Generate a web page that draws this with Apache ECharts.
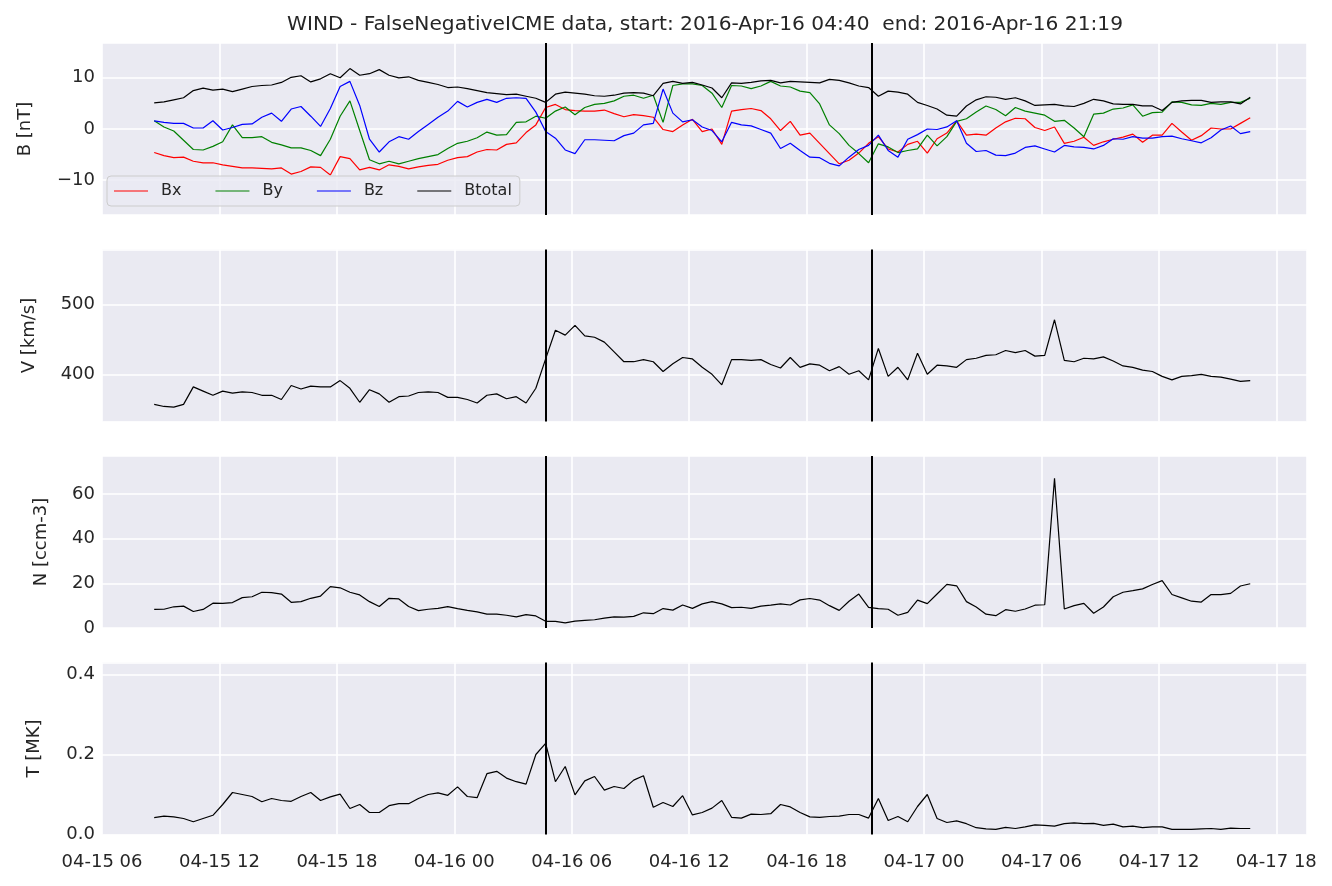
<!DOCTYPE html>
<html>
<head>
<meta charset="utf-8">
<script src="https://cdn.jsdelivr.net/npm/echarts@6/dist/echarts.min.js"></script>
<style>
html,body{margin:0;padding:0;background:#fff;}
#chart{width:1332px;height:886px;}
</style>
</head>
<body>
<div id="chart"></div>
<script>
// ---- data (sampled every 30 min from 2016-04-15 08:40 UTC) ----
const startTimeUTC = Date.UTC(2016, 3, 15, 8, 40);
const stepMinutes = 30;
const shockStart = '2016-04-16T04:40:00Z';
const icmeEnd = '2016-04-16T21:19:00Z';
const titleText = 'WIND - FalseNegativeICME data, start: 2016-Apr-16 04:40  end: 2016-Apr-16 21:19';

const Bx = [-4.6,-5.2,-5.6,-5.5,-6.3,-6.6,-6.6,-7,-7.3,-7.6,-7.6,-7.7,-7.8,-7.6,-8.8,-8.3,-7.4,-7.5,-9,-5.4,-5.8,-8,-7.5,-8,-7,-7.3,-7.8,-7.4,-7.1,-6.9,-6.1,-5.6,-5.4,-4.5,-4,-4.1,-3,-2.7,
  -0.7,0.8,4.2,4.8,3.8,3.6,3.5,3.5,3.7,3,2.4,2.8,2.6,2.3,-0.1,-0.5,0.8,1.9,-0.5,0,-3,3.5,3.8,4,3.6,2,-0.3,1.5,-1.2,-0.8,-2.8,-4.8,-6.8,-6.1,-4.7,-2.8,-1.5,-3.9,
  -4.5,-3,-2.4,-4.7,-1.9,-0.8,1.6,-1.2,-1,-1.2,0.2,1.4,2.1,2,0.3,-0.3,0.4,-2.8,-2.4,-1.6,-3.2,-2.5,-2,-1.6,-1,-2.6,-1.2,-1.2,1.1,-0.6,-2.2,-1.3,0.2,0,0,1.1,2.2];
const By = [1.6,0.4,-0.4,-2.2,-4,-4.1,-3.4,-2.5,0.8,-1.7,-1.7,-1.5,-2.6,-3.1,-3.7,-3.7,-4.2,-5.2,-2,2.5,5.5,-0.3,-6,-6.8,-6.3,-6.8,-6.3,-5.8,-5.4,-5,-3.8,-2.8,-2.4,-1.7,-0.6,-1.2,-1.1,1.3,
  1.4,2.5,2.1,3.5,4.3,2.8,4.2,4.8,5,5.5,6.4,6.6,6,6.6,1.3,8.5,8.8,8.8,8.5,7,4.2,8.5,8.4,7.9,8.4,9.3,8.4,8.2,7.4,7.1,4.9,0.8,-0.9,-3.2,-4.8,-6.6,-2.9,-3.5,
  -4.6,-4.2,-3.9,-1.2,-3.3,-1.5,1.5,2,3.3,4.5,3.8,2.6,4.2,3.5,3.1,2.7,1.5,1.7,0.2,-1.5,2.9,3.1,3.9,4.1,4.7,2.5,3.2,3.3,5.3,5.2,4.7,4.6,5,4.8,5.2,5.2,6];
const Bz = [1.6,1.3,1.1,1.1,0.2,0.2,1.6,-0.2,0.3,0.9,1,2.3,3.1,1.5,3.9,4.4,2.5,0.5,4,8.3,9.3,4.6,-2,-4.5,-2.5,-1.5,-2,-0.5,0.9,2.3,3.5,5.4,4.3,5.2,5.8,5.2,6.0,6.1,
  6,3.3,-0.5,-1.8,-4.1,-4.8,-2.1,-2.1,-2.2,-2.3,-1.3,-0.8,0.8,1.1,7.8,3.1,1.4,1.8,0.4,-0.3,-2.5,1.3,0.8,0.6,-0.1,-0.8,-3.8,-2.8,-4.2,-5.5,-5.6,-6.7,-7.2,-5.5,-4,-3.2,-1.2,-4.2,
  -5.5,-2,-1.1,0,-0.1,0.4,1.6,-2.8,-4.4,-4.2,-5.1,-5.2,-4.7,-3.6,-3.3,-3.9,-4.5,-3.2,-3.5,-3.6,-3.9,-3.2,-1.9,-2,-1.5,-1.8,-1.8,-1.5,-1.4,-1.9,-2.3,-2.7,-1.7,-0.2,0.6,-0.9,-0.5];
const Btotal = [5.1,5.3,5.7,6.1,7.5,8,7.6,7.8,7.3,7.8,8.3,8.5,8.6,9.1,10.1,10.4,9.2,9.8,10.8,10,11.8,10.5,10.8,11.6,10.5,10,10.2,9.5,9.1,8.7,8.1,8.2,7.9,7.5,7.1,6.9,6.7,6.8,
  6.4,6,5.2,6.8,7.2,7,6.8,6.5,6.4,6.6,7,7.1,7,6.5,8.9,9.3,8.9,9.1,8.6,8,6.1,9,8.9,9.1,9.4,9.5,9,9.3,9.2,9.1,9,9.7,9.5,9,8.4,8.1,6.4,7.4,
  7.2,6.8,5.2,4.6,3.9,2.7,2.5,4.5,5.7,6.3,6.2,5.8,6.1,5.5,4.6,4.7,4.8,4.5,4.4,5,5.8,5.5,4.9,4.8,4.8,4.5,4.5,3.6,5.2,5.5,5.6,5.6,5.2,5.3,5.3,4.9,6.2];
const V = [357,354,353,357,382,376,370,376,373,375,374,370,370,364,384,379,383,382,382,391,380,360,378,372,360,368,369,374,375,374,367,367,364,359,370,372,365,368,359,380,
  422,463,456,470,455,453,446,432,418,418,421,418,404,415,424,422,410,400,
  385,421,421,420,421,414,409,424,410,415,413,405,411,400,405,392,437,397,410,392,430,400,413,412,410,421,423,427,428,434,431,434,426,427,478,420,418,423,422,425,419,412,410,406,404,397,392,397,398,400,397,396,393,390,391];
const N = [8.3,8.4,9.5,9.8,7.4,8.3,11.1,11,11.4,13.6,14,16,15.8,15.2,11.5,11.8,13.3,14.3,18.5,18,16,14.8,11.8,9.6,13.3,13,9.6,7.8,8.4,8.8,9.6,8.7,7.9,7.2,6.2,6.2,5.7,5,6,5.4,
  3,3,2.3,3.1,3.4,3.7,4.4,5,4.9,5.2,6.8,6.4,8.7,8,10.3,8.8,10.8,11.8,
  10.8,9.1,9.3,8.8,9.8,10.2,10.8,10.3,12.6,13.2,12.5,10,7.9,12,15.2,9.2,8.7,8.4,5.7,7,12.5,10.9,15.2,19.5,18.9,11.8,9.4,6.2,5.5,8.2,7.5,8.5,10.2,10.4,67,8.5,10,11,6.6,9.4,14,16,16.7,17.5,19.5,21.2,15,13.5,12,11.6,15,14.9,15.5,18.8,19.8];
const T = [0.042,0.046,0.044,0.040,0.032,0.040,0.048,0.075,0.105,0.100,0.095,0.082,0.090,0.085,0.083,0.095,0.105,0.085,0.094,0.101,0.065,0.075,0.055,0.055,0.072,0.077,0.077,0.090,0.100,0.104,0.098,0.119,0.095,0.092,0.152,0.158,0.141,0.132,0.126,0.200,
  0.228,0.132,0.170,0.099,0.134,0.145,0.111,0.120,0.115,0.136,0.147,0.068,0.080,0.070,0.097,0.049,0.055,0.066,
  0.085,0.043,0.041,0.051,0.050,0.052,0.075,0.069,0.055,0.044,0.043,0.045,0.046,0.050,0.050,0.041,0.090,0.035,0.045,0.032,0.070,0.100,0.040,0.030,0.034,0.027,0.017,0.014,0.013,0.018,0.015,0.019,0.024,0.023,0.021,0.027,0.029,0.027,0.028,0.023,0.026,0.019,0.021,0.017,0.019,0.019,0.013,0.013,0.013,0.014,0.015,0.013,0.016,0.015,0.015];

const panelNames = ['B [nT]', 'V [km/s]', 'N [ccm-3]', 'T [MK]'];

// ---- build ----
const times = Bx.map((_, i) => startTimeUTC + i * stepMinutes * 60000);
const pair = arr => arr.map((v, i) => [times[i], v]);

const FONT = 'DejaVu Sans';
const TXT = '#262626';
const xMin = Date.UTC(2016, 3, 15, 6, 0);
const xMax = Date.UTC(2016, 3, 17, 19, 34);
const SIX_H = 6 * 3600 * 1000;
const tops = [43, 249.5, 456, 662.5];
const H = 172;
const LEFT = 102, WIDTH = 1205;

function pad(n){ return (n < 10 ? '0' : '') + n; }
function fmtTime(v){ const d = new Date(v); return pad(d.getUTCMonth()+1) + '-' + pad(d.getUTCDate()) + ' ' + pad(d.getUTCHours()); }

const grids = tops.map(t => ({left: LEFT, width: WIDTH, top: t, height: H, show: true, backgroundColor: '#EAEAF2', borderWidth: 0, containLabel: false}));

const xAxes = tops.map((t, k) => ({
  type: 'value', gridIndex: k, min: xMin, max: xMax, interval: SIX_H,
  axisLine: {show: false}, axisTick: {show: false},
  splitLine: {show: true, lineStyle: {color: '#ffffff', width: 1.6}},
  axisLabel: {show: k === 3, formatter: fmtTime, fontSize: 18, color: TXT, fontFamily: FONT, margin: 19, showMaxLabel: false}
}));

const yCfg = [
  {min: -16.8, max: 16.8, split: 3, fmt: v => String(v).replace('-', '\u2212'), gap: 67.5},
  {min: 332.5, max: 578.5, split: 3, fmt: v => String(v), gap: 63.5},
  {min: 0, max: 77, split: 4, fmt: v => String(v), gap: 51.5},
  {min: 0, max: 0.43, split: 2, fmt: v => v.toFixed(1), gap: 58.5}
];
const yAxes = yCfg.map((c, k) => ({
  type: 'value', gridIndex: k, min: c.min, max: c.max, splitNumber: c.split,
  name: panelNames[k], nameLocation: 'middle', nameRotate: 90, nameGap: c.gap,
  nameTextStyle: {fontSize: 18, color: TXT, fontFamily: FONT},
  axisLine: {show: false}, axisTick: {show: false},
  splitLine: {show: true, lineStyle: {color: '#ffffff', width: 1.6}},
  axisLabel: {formatter: c.fmt, fontSize: 18, color: TXT, fontFamily: FONT, margin: 7, showMinLabel: k >= 2, showMaxLabel: false}
}));

const vLines = {
  silent: true, symbol: 'none', animation: false,
  label: {show: false},
  lineStyle: {color: '#000000', width: 2, type: 'solid'},
  data: [{xAxis: Date.parse(shockStart)}, {xAxis: Date.parse(icmeEnd)}]
};

function lineSeries(name, arr, color, k, withMark){
  const s = {name, type: 'line', xAxisIndex: k, yAxisIndex: k, data: pair(arr), symbol: 'none', showSymbol: false,
    lineStyle: {color, width: 1.2}, itemStyle: {color}, animation: false, silent: true};
  if (withMark) s.markLine = vLines;
  return s;
}

const series = [
  lineSeries('Bx', Bx, '#ff0000', 0, false),
  lineSeries('By', By, '#008000', 0, false),
  lineSeries('Bz', Bz, '#0000ff', 0, false),
  lineSeries('Btotal', Btotal, '#000000', 0, true),
  lineSeries('V', V, '#000000', 1, true),
  lineSeries('N', N, '#000000', 2, true),
  lineSeries('T', T, '#000000', 3, true)
];

const chart = echarts.init(document.getElementById('chart'), null, {renderer: 'canvas'});
chart.setOption({
  animation: false,
  backgroundColor: '#ffffff',
  title: {text: titleText, left: 700, top: 10, textAlign: 'center',
    textStyle: {fontSize: 20.2, fontWeight: 'normal', color: TXT, fontFamily: FONT}},
  legend: {
    data: ['Bx', 'By', 'Bz', 'Btotal'], left: 107, top: 176, orient: 'horizontal',
    icon: 'rect', itemWidth: 34, itemHeight: 1.2, itemGap: 34, selectedMode: false,
    padding: [7, 8, 7, 7], backgroundColor: 'rgba(234,234,242,0.8)', borderColor: '#cccccc', borderWidth: 1, borderRadius: 4,
    textStyle: {fontSize: 16, color: TXT, fontFamily: FONT, padding: [0, 0, 0, 8]}
  },
  grid: grids, xAxis: xAxes, yAxis: yAxes, series
});
</script>
</body>
</html>
